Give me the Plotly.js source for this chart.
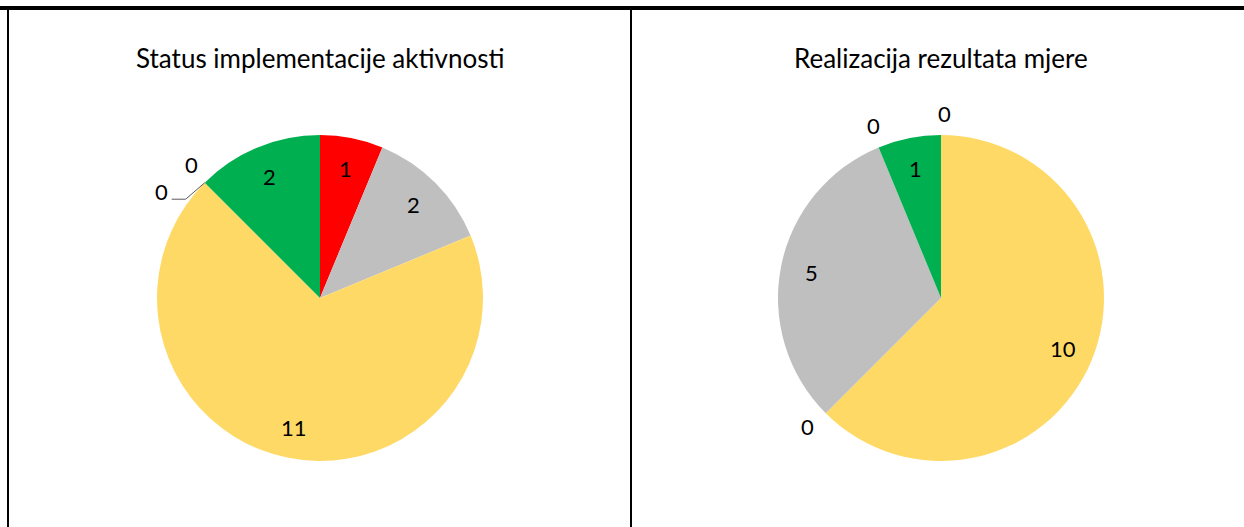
<!DOCTYPE html>
<html>
<head>
<meta charset="utf-8">
<script src="https://cdn.plot.ly/plotly-3.0.1.min.js"></script>
<style>html,body{margin:0;padding:0;background:#fff;}#chart{width:1244px;height:527px;}</style>
</head>
<body>
<div id="chart"></div>
<script>
// ---- data ----
const leftTitle = "Status implementacije aktivnosti";
const leftCategories = ["Nije započeto", "U toku - kasni", "U toku", "Odloženo", "Obustavljeno", "Završeno"];
const leftValues = [1, 2, 11, 0, 0, 2];
const leftColors = ["#FF0000", "#BFBFBF", "#FFD966", "#4472C4", "#ED7D31", "#00B050"];

const rightTitle = "Realizacija rezultata mjere";
const rightCategories = ["Nije realizovan", "Djelimično realizovan", "Odloženo", "U toku", "Obustavljeno", "Realizovan"];
const rightValues = [0, 10, 0, 5, 0, 1];
const rightColors = ["#FF0000", "#FFD966", "#4472C4", "#BFBFBF", "#ED7D31", "#00B050"];

// ---- layout geometry ----
const W = 1244, H = 527;
const R = 163;
const pies = [
  {cx: 320, cy: 298, title: leftTitle, cats: leftCategories, vals: leftValues, cols: leftColors},
  {cx: 941, cy: 298, title: rightTitle, cats: rightCategories, vals: rightValues, cols: rightColors}
];
const FONT = "Lato, 'Open Sans', sans-serif";

const traces = [];
const annotations = [];
const shapes = [];
const px = x => x / W;
const py = y => 1 - y / H;

pies.forEach(p => {
  traces.push({
    type: 'pie',
    labels: p.cats,
    values: p.vals,
    sort: false,
    direction: 'clockwise',
    rotation: 0,
    marker: {colors: p.cols, line: {width: 0}},
    textinfo: 'none',
    hoverinfo: 'label+value',
    showlegend: false,
    domain: {x: [px(p.cx - R), px(p.cx + R)], y: [py(p.cy + R), py(p.cy - R)]}
  });
  annotations.push({
    text: p.title, xref: 'paper', yref: 'paper', x: px(p.cx), y: py(58),
    xanchor: 'center', yanchor: 'middle', showarrow: false,
    font: {family: FONT, size: 26, color: '#000'}
  });
  const total = p.vals.reduce((a, b) => a + b, 0);
  let cum = 0;
  const zeroSeen = {};
  p.vals.forEach(v => {
    const a0 = cum / total * 360;
    cum += v;
    const a1 = cum / total * 360;
    if (v > 0) {
      const mid = (a0 + a1) / 2 * Math.PI / 180;
      const k = 0.81 * R;
      annotations.push({
        text: String(v), xref: 'paper', yref: 'paper',
        x: px(p.cx + k * Math.sin(mid)), y: py(p.cy - k * Math.cos(mid)),
        xanchor: 'center', yanchor: 'middle', showarrow: false,
        font: {family: FONT, size: 22, color: '#000'}
      });
    } else {
      const key = a0.toFixed(3);
      const n = zeroSeen[key] || 0;
      zeroSeen[key] = n + 1;
      let ang = a0 + 1, rr = R + 22;
      if (n > 0) { ang = a0 - 11; rr = R + 28; }
      const ar = ang * Math.PI / 180;
      const lx = p.cx + rr * Math.sin(ar), ly = p.cy - rr * Math.cos(ar);
      annotations.push({
        text: '0', xref: 'paper', yref: 'paper', x: px(lx), y: py(ly),
        xanchor: 'center', yanchor: 'middle', showarrow: false,
        font: {family: FONT, size: 22, color: '#000'}
      });
      if (n > 0) {
        const er = a0 * Math.PI / 180;
        const ex = p.cx + R * Math.sin(er), ey = p.cy - R * Math.cos(er);
        const bx = lx + 24, by = ly + 8;
        shapes.push({
          type: 'path', xref: 'paper', yref: 'paper',
          path: `M ${px(ex)} ${py(ey)} L ${px(bx)} ${py(by)} L ${px(lx + 10)} ${py(by)}`,
          line: {color: '#595959', width: 1}
        });
      }
    }
  });
});

// table frame lines
shapes.push({type: 'line', xref: 'paper', yref: 'paper', x0: 0, x1: 1, y0: py(8), y1: py(8), line: {color: '#000', width: 4}});
shapes.push({type: 'line', xref: 'paper', yref: 'paper', x0: px(8), x1: px(8), y0: py(8), y1: 0, line: {color: '#000', width: 2}});
shapes.push({type: 'line', xref: 'paper', yref: 'paper', x0: px(631), x1: px(631), y0: py(8), y1: 0, line: {color: '#000', width: 2}});

Plotly.newPlot('chart', traces, {
  width: W, height: H,
  margin: {l: 0, r: 0, t: 0, b: 0},
  paper_bgcolor: '#fff', plot_bgcolor: '#fff',
  annotations: annotations, shapes: shapes,
  font: {family: FONT}
}, {staticPlot: true});
</script>
</body>
</html>
